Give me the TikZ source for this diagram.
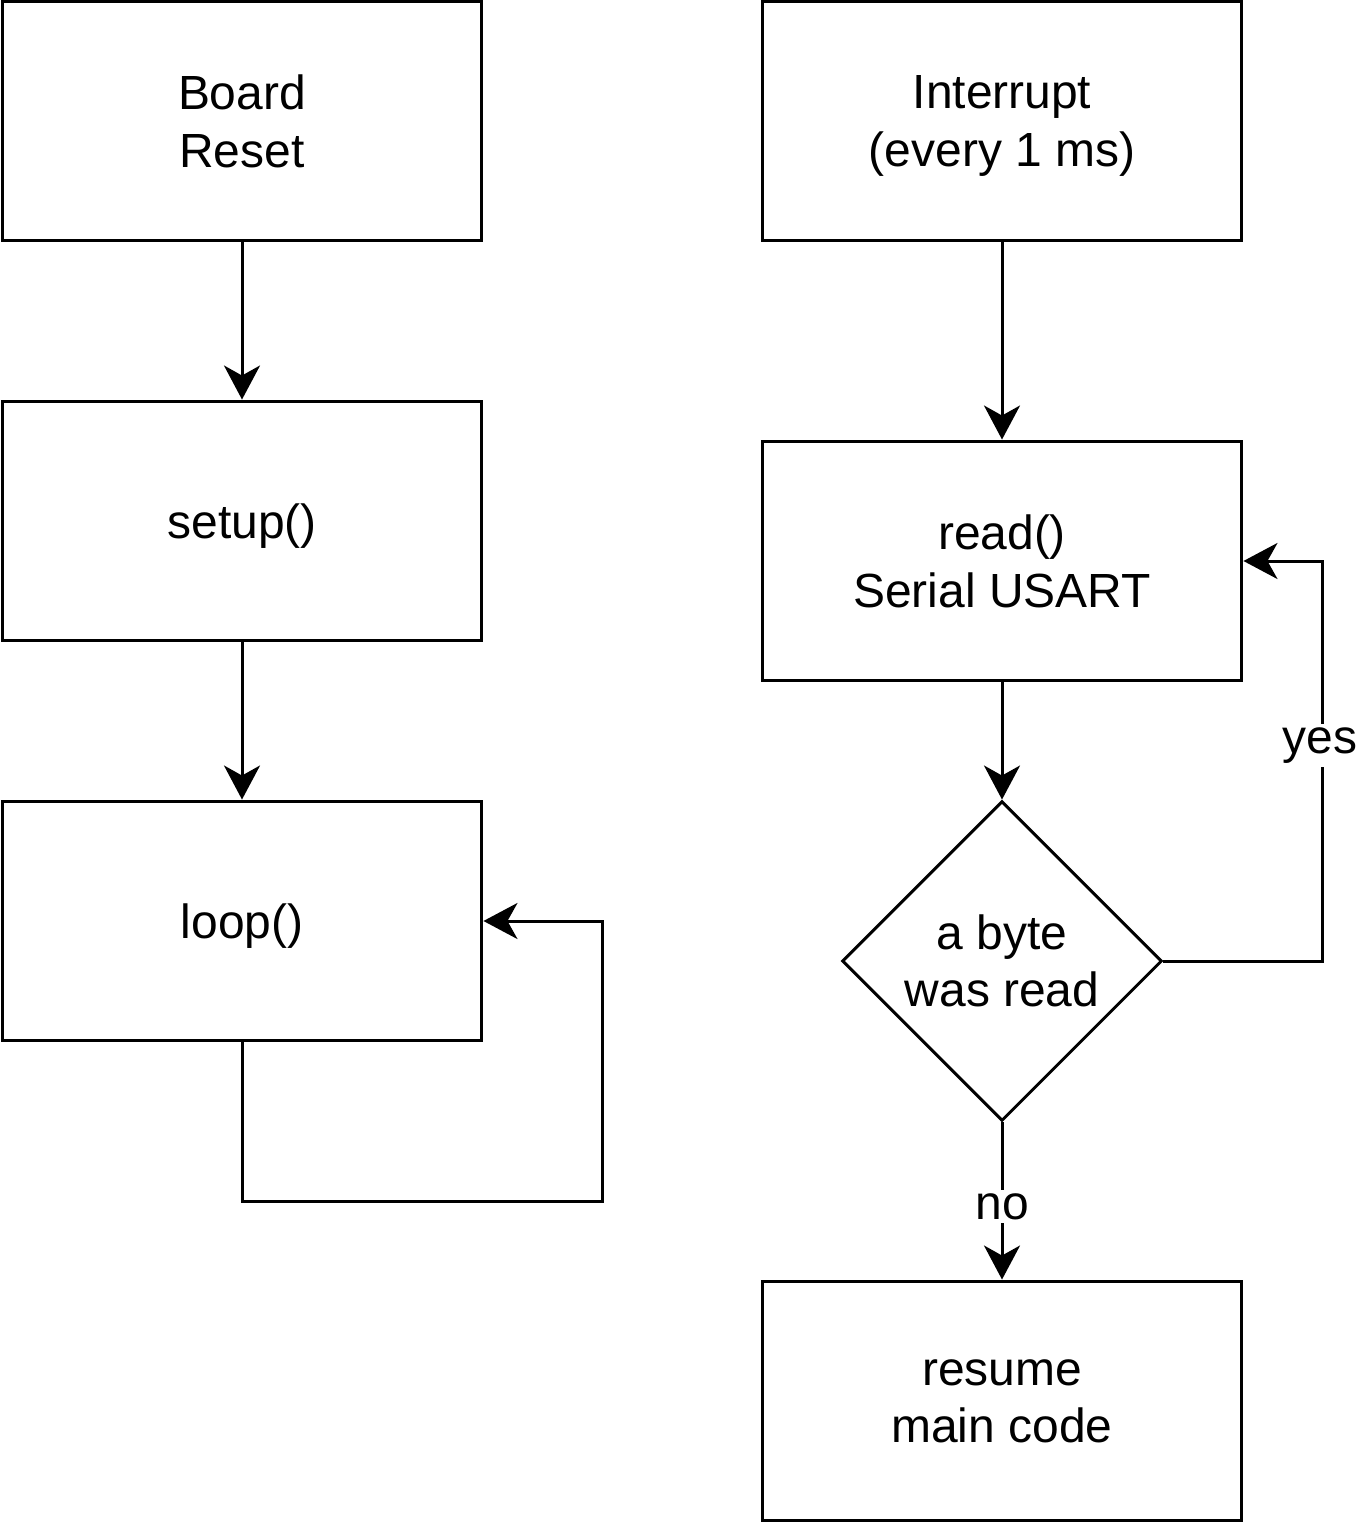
\documentclass[tikz,border=0pt]{standalone}
\usepackage{fontspec}
\setmainfont{Liberation Sans}
\usetikzlibrary{arrows.meta,positioning,shapes.geometric}
\tikzset{
  flowBox/.style={
    draw=black,
    line width=0.06cm,
    minimum width=9.6cm,
    minimum height=4.8cm,
    align=center,
    inner sep=0pt,
    text depth=0pt,
    font=\fontsize{27.3}{32.8}\selectfont
  },
  flowDecision/.style={
    draw=black,
    diamond,
    shape aspect=1,
    line width=0.06cm,
    minimum size=6.4cm,
    inner sep=0pt,
    align=center,
    font=\fontsize{27.3}{32.8}\selectfont
  },
  flowArrow/.style={-{Stealth[length=0.68cm,width=0.72cm,inset=0.2cm]}, line width=0.06cm},
  edgeLabel/.style={fill=white, inner sep=2pt, yshift=-0.11cm, font=\fontsize{27.3}{32.8}\selectfont}
}
\begin{document}
\begin{tikzpicture}[x=0.02cm,y=-0.02cm]
  \useasboundingbox (0,0) rectangle (1356,1524);

  % main program
  \node[flowBox] (reset) at (242,121) {Board\\Reset};
  \node[flowBox] (setup) at (242,521) {setup()};
  \node[flowBox] (loop) at (242,921) {loop()};
  \coordinate (loopLow) at (242,1201);
  \coordinate (loopRight) at (602,1201);
  \coordinate (loopBack) at (602,921);

  \draw[flowArrow] (reset) -- (setup);
  \draw[flowArrow] (setup) -- (loop);
  \draw[flowArrow] (loop.south) -- (loopLow) -- (loopRight) -- (loopBack) -- (loop.east);

  % interrupt routine
  \node[flowBox] (isr) at (1002,121) {Interrupt\\(every 1 ms)};
  \node[flowBox] (read) at (1002,561) {read()\\Serial USART};
  \node[flowDecision] (byte) at (1002,961) {a byte\\was read};
  \node[flowBox] (resume) at (1002,1401) {resume\\main code};
  \coordinate (yesLow) at (1322,961);
  \coordinate (yesHigh) at (1322,561);

  \draw[flowArrow] (isr) -- (read);
  \draw[flowArrow] (read) -- (byte.north);
  \draw[flowArrow] (byte.east) -- (yesLow) -- (yesHigh) -- (read.east);
  \node[edgeLabel] (yesLab) at (1320,740) {yes};
  \draw[flowArrow] (byte.south) -- node[edgeLabel] (noLab) {no} (resume);
\end{tikzpicture}
\end{document}
